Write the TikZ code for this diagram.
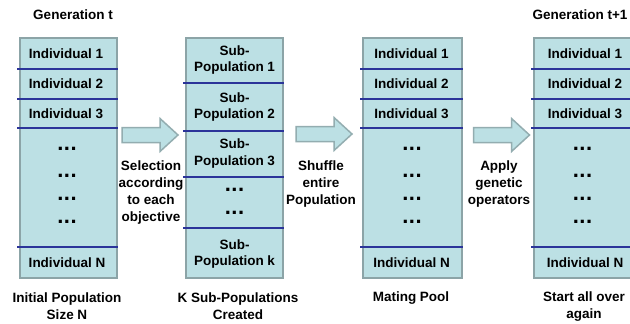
\documentclass[tikz,border=0pt]{standalone}
\usepackage{fontspec}
\setmainfont{Liberation Sans}
\definecolor{fillc}{HTML}{BCE0E4}
\definecolor{bordc}{HTML}{8CA4A7}
\definecolor{divc}{HTML}{2B3499}
\definecolor{arrc}{HTML}{93ADB0}
\tikzset{
  col/.style={draw=bordc, line width=2pt, fill=fillc, minimum height=240pt, inner sep=0pt},
  divline/.style={draw=divc, line width=1.2pt},
  lbl/.style={font=\fontsize{13.5}{17}\selectfont\bfseries, align=center, inner sep=0pt},
  sublbl/.style={font=\fontsize{13.5}{16.5}\selectfont\bfseries, align=center, inner sep=0pt},
  dots/.style={font=\fontsize{22}{24}\selectfont\bfseries, inner sep=0pt, anchor=base},
  blk/.style={draw=arrc, line width=1.5pt, fill=fillc, line join=miter}
}
\newcommand\blockarr[2]{\draw[blk] ({#1},{#2-7.5}) -- ++(38,0) -- ++(0,-9) -- ++(18,16.5) -- ++(-18,16.5) -- ++(0,-9) -- ++(-38,0) -- cycle;}
\newcommand\tdots{.\hspace{0.5pt}.\hspace{0.5pt}.}
\begin{document}
\begin{tikzpicture}[x=1pt,y=-1pt]
\clip (0,0) rectangle (630,324);
\fill[white] (0,0) rectangle (630,324);
% columns
\node[col, minimum width=97pt] (c1) at (68.5,158) {};
\node[col, minimum width=97pt] (c2) at (234.5,158) {};
\node[col, minimum width=99pt] (c3) at (412.5,158) {};
\node[col, minimum width=97pt] (c4) at (582.5,158) {};
% dividers
\foreach \c in {c1,c3,c4}{
  \foreach \yy in {69,99,128,247}{
    \draw[divline] ([xshift=-2pt]\c.west |- 0,\yy) -- (\c.east |- 0,\yy);
  }
}
\foreach \yy in {83,131,177,228}{
  \draw[divline] ([xshift=-2pt]c2.west |- 0,\yy) -- (c2.east |- 0,\yy);
}
% column 1
\node[lbl] (c1a) at (66,53.5) {Individual 1};
\node[lbl] (c1b) at (66,84) {Individual 2};
\node[lbl] (c1c) at (66,113.5) {Individual 3};
\node[dots] (c1d1) at (67,150) {\tdots};
\node[dots] (c1d2) at (67,177) {\tdots};
\node[dots] (c1d3) at (67,200) {\tdots};
\node[dots] (c1d4) at (67,223) {\tdots};
\node[lbl] (c1n) at (67,262.5) {Individual N};
% column 2
\node[sublbl] (c2a) at (234.5,60) {Sub-\\Population 1};
\node[sublbl] (c2b) at (234.5,107) {Sub-\\Population 2};
\node[sublbl] (c2c) at (234.5,153.5) {Sub-\\Population 3};
\node[dots] (c2d1) at (234.5,191) {\tdots};
\node[dots] (c2d2) at (234.5,214) {\tdots};
\node[sublbl] (c2k) at (234.5,254) {Sub-\\Population k};
% column 3
\node[lbl] (c3a) at (411.5,53.5) {Individual 1};
\node[lbl] (c3b) at (411.5,84) {Individual 2};
\node[lbl] (c3c) at (411.5,113.5) {Individual 3};
\node[dots] (c3d1) at (412,150) {\tdots};
\node[dots] (c3d2) at (412,177) {\tdots};
\node[dots] (c3d3) at (412,200) {\tdots};
\node[dots] (c3d4) at (412,223) {\tdots};
\node[lbl] (c3n) at (411.5,262.5) {Individual N};
% column 4
\node[lbl] (c4a) at (585,53.5) {Individual 1};
\node[lbl] (c4b) at (585,84) {Individual 2};
\node[lbl] (c4c) at (585,113.5) {Individual 3};
\node[dots] (c4d1) at (582.5,150) {\tdots};
\node[dots] (c4d2) at (582.5,177) {\tdots};
\node[dots] (c4d3) at (582.5,200) {\tdots};
\node[dots] (c4d4) at (582.5,223) {\tdots};
\node[lbl] (c4n) at (585,262.5) {Individual N};
% block arrows
\blockarr{122}{135}
\blockarr{296}{134}
\blockarr{473.5}{135}
% labels
\node[lbl] (g1) at (73,15) {Generation t};
\node[lbl] (g2) at (580,15) {Generation t+1};
\node[lbl] (l1) at (67,306.5) {Initial Population\\Size N};
\node[lbl] (l2) at (238,306.5) {K Sub-Populations\\Created};
\node[lbl] (l3) at (411,298) {Mating Pool};
\node[lbl] (l4) at (584,306.5) {Start all over\\again};
\node[lbl] (a1) at (151,192.5) {Selection\\according\\to each\\objective};
\node[lbl] (a2) at (321,184.5) {Shuffle\\entire\\Population};
\node[lbl] (a3) at (499,184.5) {Apply\\genetic\\operators};
\end{tikzpicture}
\end{document}
